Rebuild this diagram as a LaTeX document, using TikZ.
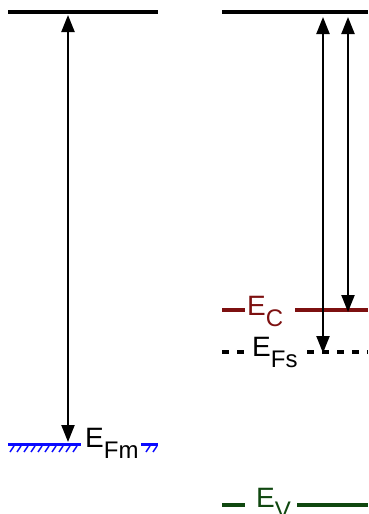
\documentclass[tikz,border=0pt]{standalone}
\usepackage{fontspec}
\setmainfont{Liberation Sans}
\usetikzlibrary{arrows.meta}
\definecolor{ecol}{RGB}{125,16,16}
\definecolor{vcol}{RGB}{16,72,16}
\definecolor{fblue}{RGB}{10,10,255}
\newcommand\elbl[1]{{\fontsize{28}{30}\selectfont E}\raisebox{-11pt}{\fontsize{24}{26}\selectfont #1}}
\tikzset{
  level/.style={line width=4pt},
  trans/.style={line width=2.2pt, {Triangle[length=17pt,width=13pt]}-{Triangle[length=17pt,width=13pt]}},
  hatch/.style={fblue, line width=1.4pt},
  dsh/.style={line width=4pt, dash pattern=on 7pt off 8pt},
  lab/.style={anchor=base west, inner sep=0pt}
}
\begin{document}
\begin{tikzpicture}[x=1pt,y=-1pt]
\useasboundingbox (0,0) rectangle (368,514);
\clip (0,0) rectangle (368,514);
% vacuum levels
\coordinate (vl1) at (8,12); \coordinate (vl2) at (158,12);
\coordinate (vr1) at (222,12); \coordinate (vr2) at (368,12);
\draw[level] (vl1) -- (vl2);
\draw[level] (vr1) -- (vr2);
% metal Fermi level
\coordinate (fm1) at (8,444.5); \coordinate (fm2) at (81,444.5);
\coordinate (fm3) at (141,444.5); \coordinate (fm4) at (158,444.5);
\draw[fblue, line width=3.2pt] (fm1) -- (fm2);
\draw[fblue, line width=3.2pt] (fm3) -- (fm4);
\foreach \x in {14,21,...,81} \draw[hatch] (\x,446) -- ++(-4,6);
\foreach \x in {150,157} \draw[hatch] (\x,446) -- ++(-4,6);
\node[lab] (efm) at (85,447) {\elbl{Fm}};
% semiconductor levels
\coordinate (ec1) at (222,309.5); \coordinate (ec2) at (245,309.5);
\coordinate (ec3) at (295,309.5); \coordinate (ec4) at (368,309.5);
\draw[ecol, level] (ec1) -- (ec2);
\draw[ecol, level] (ec3) -- (ec4);
\node[lab, text=ecol] (ecl) at (247,315) {\elbl{C}};
\coordinate (ef1) at (222,352); \coordinate (ef2) at (246,352);
\coordinate (ef3) at (307,352); \coordinate (ef4) at (368,352);
\draw[dsh] (ef1) -- (ef2);
\draw[dsh] (ef3) -- (ef4);
\node[lab] (efs) at (252,356) {\elbl{Fs}};
\coordinate (ev1) at (222,505); \coordinate (ev2) at (245,505);
\coordinate (ev3) at (297,505); \coordinate (ev4) at (368,505);
\draw[vcol, level] (ev1) -- (ev2);
\draw[vcol, level] (ev3) -- (ev4);
\node[lab, text=vcol] (evl) at (256,507) {\elbl{V}};
% transitions
\coordinate (a1t) at (68,15); \coordinate (a1b) at (68,442);
\coordinate (a2t) at (323,17); \coordinate (a2b) at (323,353);
\coordinate (a3t) at (348,17); \coordinate (a3b) at (348,312);
\draw[trans] (a1t) -- (a1b);
\draw[trans] (a2t) -- (a2b);
\draw[trans] (a3t) -- (a3b);
\end{tikzpicture}
\end{document}
